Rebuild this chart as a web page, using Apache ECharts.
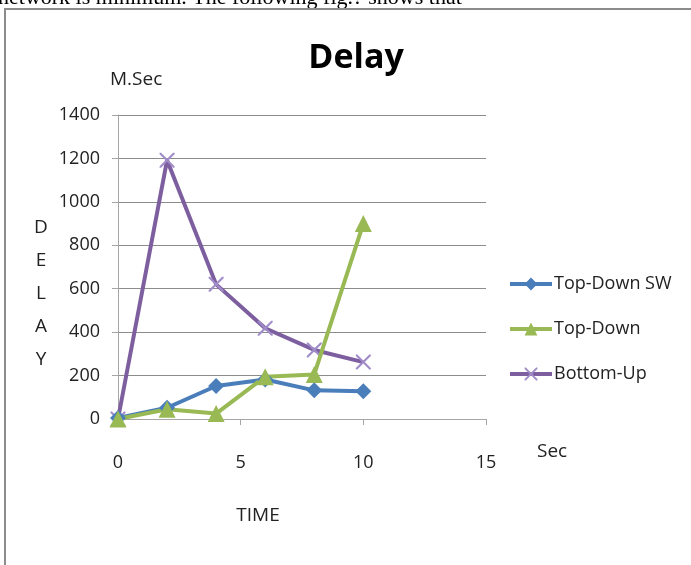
<!DOCTYPE html>
<html><head><meta charset="utf-8">
<script src="https://cdn.jsdelivr.net/npm/echarts@6/dist/echarts.min.js"></script>
<style>html,body{margin:0;padding:0;background:#fff;}#c{width:691px;height:565px;}</style>
</head><body><div id="c"></div>
<script>
const xValues = [0, 2, 4, 6, 8, 10];
const topDownSW = [5, 52, 152, 182, 132, 128];
const topDown = [0, 45, 25, 195, 205, 900];
const bottomUp = [0, 1192, 620, 418, 318, 262];
const seriesNames = ['Top-Down SW', 'Top-Down', 'Bottom-Up'];
const xTicks = [0, 5, 10, 15];
const yTicks = [0, 200, 400, 600, 800, 1000, 1200, 1400];

const FONT = "'Open Sans', sans-serif";
const pair = (arr) => xValues.map((x, i) => [x, arr[i]]);
const crossPath = 'path://M0,0L1,0L5,4L9,0L10,0L10,1L6,5L10,9L10,10L9,10L5,6L1,10L0,10L0,9L4,5L0,1Z';
const colors = ['#4a7ebb', '#98b954', '#7d5fa0'];

const chart = echarts.init(document.getElementById('c'));
chart.setOption({
  animation: false,
  backgroundColor: '#fff',
  grid: { left: 118, right: 205, top: 115, bottom: 146, containLabel: false },
  xAxis: {
    type: 'value', min: xTicks[0], max: xTicks[xTicks.length - 1], interval: 5,
    axisLine: { show: true, lineStyle: { color: '#a6a6a6', width: 1 } },
    axisTick: { show: true, length: 6, lineStyle: { color: '#a6a6a6' } },
    splitLine: { show: false },
    axisLabel: { color: '#222', fontFamily: FONT, fontSize: 18, margin: 35, formatter: (v) => String(v) }
  },
  yAxis: {
    type: 'value', min: yTicks[0], max: yTicks[yTicks.length - 1], interval: 200,
    axisLine: { show: true, lineStyle: { color: '#a6a6a6', width: 1 } },
    axisTick: { show: true, length: 6, lineStyle: { color: '#a6a6a6' } },
    splitLine: { show: true, lineStyle: { color: '#8c8c8c', width: 1 } },
    axisLabel: { color: '#222', fontFamily: FONT, fontSize: 18, margin: 18, formatter: (v) => String(v) }
  },
  legend: {
    orient: 'vertical', left: 503, top: 270, itemGap: 27,
    itemWidth: 42, itemHeight: 16,
    textStyle: { color: '#222', fontFamily: FONT, fontSize: 18, padding: [0, 0, 0, -3] },
    lineStyle: { width: 4 },
    data: seriesNames
  },
  series: [
    { name: seriesNames[0], type: 'line', data: pair(topDownSW),
      symbol: 'diamond', symbolSize: 16,
      lineStyle: { color: colors[0], width: 4 }, itemStyle: { color: colors[0] } },
    { name: seriesNames[1], type: 'line', data: pair(topDown),
      symbol: 'triangle', symbolSize: 17,
      lineStyle: { color: colors[1], width: 4 }, itemStyle: { color: colors[1] } },
    { name: seriesNames[2], type: 'line', data: pair(bottomUp),
      symbol: crossPath, symbolSize: 15, z: 1,
      lineStyle: { color: colors[2], width: 4 }, itemStyle: { color: '#a08cc8' } }
  ],
  graphic: [
    { type: 'text', left: -2, top: -13, style: { text: 'network is minimum. The following fig.? shows that', font: "22px 'Liberation Serif', serif", fill: '#000' } },
    { type: 'rect', shape: { x: 5, y: 9, width: 700, height: 600 }, style: { fill: 'none', stroke: '#8c8c8c', lineWidth: 2 } },
    { type: 'text', x: 356, y: 58, style: { text: 'Delay', font: "bold 34px " + FONT, fill: '#000', textAlign: 'center', textVerticalAlign: 'middle' } },
    { type: 'text', x: 110, y: 80, style: { text: 'M.Sec', font: "19px " + FONT, fill: '#222', textVerticalAlign: 'middle' } },
    { type: 'text', x: 537, y: 452, style: { text: 'Sec', font: "19px " + FONT, fill: '#222', textVerticalAlign: 'middle' } },
    { type: 'text', x: 258, y: 516, style: { text: 'TIME', font: "19px " + FONT, fill: '#222', textAlign: 'center', textVerticalAlign: 'middle' } },
    { type: 'text', x: 41, y: 294, style: { text: 'D\nE\nL\nA\nY', font: "19px " + FONT, fill: '#222', textAlign: 'center', textVerticalAlign: 'middle', lineHeight: 33 } }
  ]
});
</script></body></html>
